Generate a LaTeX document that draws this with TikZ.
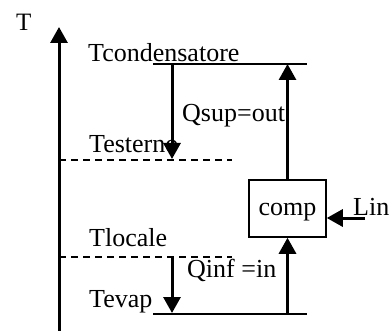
\documentclass[tikz,border=0pt]{standalone}
\usepackage{fontspec}
\setmainfont{Liberation Serif}
\usetikzlibrary{arrows.meta}
\begin{document}
\begin{tikzpicture}[x=1pt,y=-1pt,
  lbl/.style={inner sep=0pt,anchor=base west,font=\fontsize{26}{30}\selectfont},
  bigarrow/.style={line width=3pt,-{Triangle[width=17pt,length=16pt]}},
  levelline/.style={line width=1.5pt},
  dashlevel/.style={line width=2pt,dash pattern=on 7pt off 5pt}]
\useasboundingbox (0,0) rectangle (390,331);
% axis
\coordinate (axb) at (59,331);
\coordinate (axt) at (59,27);
\draw[bigarrow] (axb) -- (axt);
\node[lbl,font=\fontsize{25}{30}\selectfont] (tlab) at (16,31) {T};
% levels
\coordinate (top1) at (153,64);
\coordinate (top2) at (307,64);
\coordinate (bot1) at (153,314);
\coordinate (bot2) at (307,314);
\draw[levelline] (top1) -- (top2);
\draw[levelline] (bot1) -- (bot2);
\coordinate (de1) at (59,160);
\coordinate (de2) at (232,160);
\coordinate (dl1) at (59,257);
\coordinate (dl2) at (232,257);
\draw[dashlevel] (de1) -- (de2);
\draw[dashlevel] (dl1) -- (dl2);
% labels
\node[lbl] (tcond) at (88,62) {Tcondensatore};
\node[lbl] (test) at (89,153) {Testerno};
\node[lbl] (tloc) at (89,246) {Tlocale};
\node[lbl] (tevap) at (89,307) {Tevap};
\node[lbl] (qsup) at (182,122) {Qsup=out};
\node[lbl] (qinf) at (187,277) {Qinf =in};
\node[lbl] (lin) at (353,215) {Lin};
% compressor
\node[draw,line width=1.5pt,inner sep=0pt,minimum width=77pt,text height=35pt,text depth=22pt,
  font=\fontsize{26}{30}\selectfont] (comp) at (287.5,208.5) {comp};
% down arrows
\coordinate (qs1) at (172,64);
\coordinate (qs2) at (172,159);
\coordinate (qi1) at (172,257);
\coordinate (qi2) at (172,313);
\draw[bigarrow] (qs1) -- (qs2);
\draw[bigarrow] (qi1) -- (qi2);
% right vertical arrows
\coordinate (cb) at (287.5,314);
\coordinate (ct) at (287.5,64);
\draw[bigarrow] (cb) -- (comp.south);
\draw[bigarrow] (comp.north) -- (ct);
% Lin arrow
\coordinate (linend) at (365,218);
\draw[bigarrow] (linend) -- (comp.east |- linend);
\end{tikzpicture}
\end{document}
